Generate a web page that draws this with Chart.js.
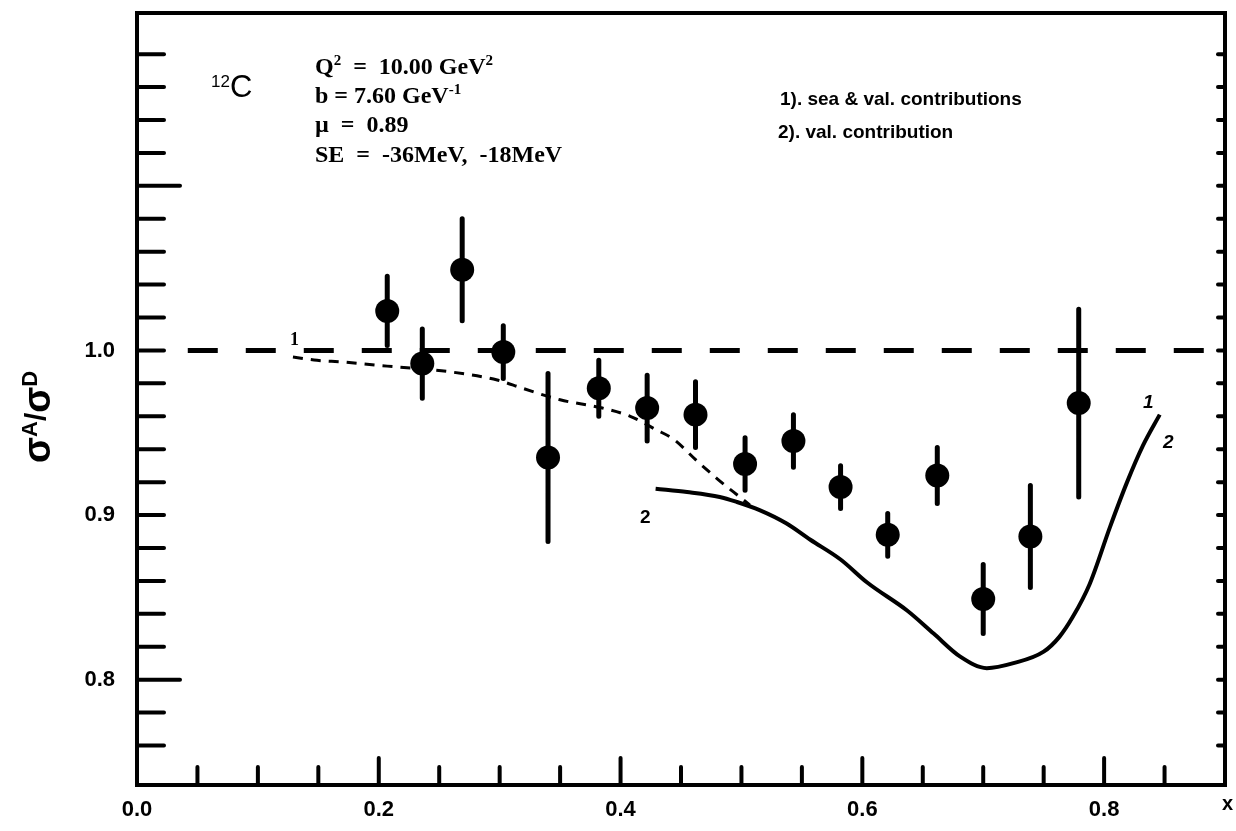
<!DOCTYPE html>
<html>
<head>
<meta charset="utf-8">
<script src="https://cdn.jsdelivr.net/npm/chart.js@4.4.1/dist/chart.umd.min.js"></script>
<style>
  html, body { margin: 0; padding: 0; background: #fff; }
  canvas { display: block; }
</style>
</head>
<body>
<canvas id="grafico" width="1236" height="831"></canvas>
<script>
// measured ratios for 12C
const dataX   = [0.207, 0.236, 0.269, 0.303, 0.340, 0.382, 0.422, 0.462, 0.503, 0.543, 0.582, 0.621, 0.662, 0.700, 0.739, 0.779];
const dataY   = [1.024, 0.992, 1.049, 0.999, 0.935, 0.977, 0.965, 0.961, 0.931, 0.945, 0.917, 0.888, 0.924, 0.849, 0.887, 0.968];
const dataErr = [0.021, 0.021, 0.031, 0.016, 0.051, 0.017, 0.020, 0.020, 0.016, 0.016, 0.013, 0.013, 0.017, 0.021, 0.031, 0.057];

// curve 1: sea & val. contributions (dashed part, joins curve 2 afterwards)
const curve1X = [0.129, 0.149, 0.170, 0.198, 0.215, 0.259, 0.298, 0.319, 0.350, 0.385, 0.408, 0.429, 0.444, 0.463, 0.480, 0.502, 0.507];
const curve1Y = [0.996, 0.994, 0.993, 0.991, 0.990, 0.987, 0.982, 0.977, 0.970, 0.965, 0.960, 0.952, 0.946, 0.933, 0.922, 0.909, 0.906];

// curve 2: val. contribution
const curve2X = [0.429, 0.455, 0.482, 0.496, 0.515, 0.537, 0.557, 0.582, 0.604, 0.637, 0.659, 0.681, 0.703, 0.725, 0.750, 0.763, 0.774, 0.788, 0.805, 0.819, 0.832, 0.846];
const curve2Y = [0.916, 0.914, 0.911, 0.908, 0.903, 0.895, 0.885, 0.873, 0.859, 0.842, 0.828, 0.814, 0.807, 0.810, 0.817, 0.826, 0.838, 0.858, 0.893, 0.920, 0.942, 0.961];

// unity reference line
const unityX = [0.042, 0.9];
const unityY = [1.0, 1.0];

const xLabelTicks = [0.0, 0.2, 0.4, 0.6, 0.8];
const yLabelTicks = [0.8, 0.9, 1.0];
const yLongTicks = [0.8, 1.1];

function pares(xs, ys) {
  return xs.map((x, i) => ({ x: x, y: ys[i] }));
}

function near(v, list) {
  return list.some(t => Math.abs(t - v) < 1e-6);
}

const barras = [];
dataX.forEach((x, i) => {
  barras.push({ x: x, y: dataY[i] - dataErr[i] });
  barras.push({ x: x, y: dataY[i] + dataErr[i] });
  barras.push({ x: x, y: null });
});

// frame with inward ticks on left, bottom and right
const moldura = {
  id: 'moldura',
  afterDraw(chart) {
    const ctx = chart.ctx;
    const a = chart.chartArea;
    const xs = chart.scales.x;
    const ys = chart.scales.y;
    ctx.save();
    ctx.strokeStyle = '#000';
    ctx.lineCap = 'round';
    ctx.lineWidth = 4;
    ctx.strokeRect(a.left, a.top, a.right - a.left, a.bottom - a.top);

    ys.ticks.forEach(t => {
      const v = t.value;
      if (Math.abs(v * 50 - Math.round(v * 50)) > 1e-6) return;
      const py = ys.getPixelForValue(v);
      const len = near(v, yLongTicks) ? 43 : 27;
      ctx.beginPath();
      ctx.moveTo(a.left, py);
      ctx.lineTo(a.left + len, py);
      ctx.stroke();
      ctx.beginPath();
      ctx.moveTo(a.right, py);
      ctx.lineTo(a.right - 7, py);
      ctx.stroke();
    });

    xs.ticks.forEach(t => {
      const v = t.value;
      if (v <= 0.001 || v >= 0.899) return;
      const px = xs.getPixelForValue(v);
      const len = near(v, xLabelTicks) ? 27 : 18;
      ctx.beginPath();
      ctx.moveTo(px, a.bottom);
      ctx.lineTo(px, a.bottom - len);
      ctx.stroke();
    });
    ctx.restore();
  }
};

function drawRich(ctx, x, y, parts) {
  parts.forEach(p => {
    ctx.font = p.f;
    ctx.fillText(p.t, x, y + (p.dy || 0));
    x += ctx.measureText(p.t).width;
  });
}

const textos = {
  id: 'textos',
  afterDraw(chart) {
    const ctx = chart.ctx;
    ctx.save();
    ctx.fillStyle = '#000';
    ctx.textBaseline = 'alphabetic';
    ctx.textAlign = 'left';

    const serif = 'bold 24px "Liberation Serif"';
    const sup = 'bold 15px "Liberation Serif"';

    // nucleus
    drawRich(ctx, 211, 97, [
      { t: '12', f: '17px "Liberation Sans"', dy: -10 },
      { t: 'C', f: '31px "Liberation Sans"' }
    ]);

    // model parameters
    drawRich(ctx, 315, 74, [
      { t: 'Q', f: serif }, { t: '2', f: sup, dy: -9 },
      { t: '  =  10.00 GeV', f: serif }, { t: '2', f: sup, dy: -9 }
    ]);
    drawRich(ctx, 315, 103, [
      { t: 'b = 7.60 GeV', f: serif }, { t: '-1', f: sup, dy: -9 }
    ]);
    drawRich(ctx, 315, 132, [{ t: '\u00b5  =  0.89', f: serif }]);
    drawRich(ctx, 315, 162, [{ t: 'SE  =  -36MeV,  -18MeV', f: serif }]);

    // curve legend
    ctx.font = 'bold 19px "Liberation Sans"';
    ctx.fillText('1). sea & val. contributions', 780, 105, 250);
    ctx.fillText('2). val. contribution', 778, 138, 190);

    // curve tags
    ctx.font = 'bold 18px "Liberation Serif"';
    ctx.fillText('1', 290, 345);
    ctx.font = 'bold 19px "Liberation Sans"';
    ctx.fillText('2', 640, 523);
    ctx.font = 'italic bold 19px "Liberation Sans"';
    ctx.fillText('1', 1143, 408);
    ctx.fillText('2', 1163, 448);

    // axis name at the right end of x
    ctx.font = 'bold 20px "Liberation Sans"';
    ctx.fillText('x', 1222, 810);

    // y axis title
    ctx.translate(50, 463);
    ctx.rotate(-Math.PI / 2);
    drawRich(ctx, 0, 0, [
      { t: '\u03c3', f: 'bold 38px "Liberation Sans"' },
      { t: 'A', f: 'bold 22px "Liberation Sans"', dy: -13 },
      { t: '/', f: 'bold 30px "Liberation Sans"', dy: -4 },
      { t: '\u03c3', f: 'bold 38px "Liberation Sans"' },
      { t: 'D', f: 'bold 22px "Liberation Sans"', dy: -13 }
    ]);
    ctx.restore();
  }
};

const ctx = document.getElementById('grafico').getContext('2d');
const grafico = new Chart(ctx, {
  type: 'scatter',
  data: {
    datasets: [
      {
        label: 'unity',
        data: pares(unityX, unityY),
        showLine: true,
        borderColor: '#000',
        borderWidth: 5,
        borderDash: [30, 28],
        pointRadius: 0
      },
      {
        label: 'curve 1',
        data: pares(curve1X, curve1Y),
        showLine: true,
        borderColor: '#000',
        borderWidth: 3,
        borderDash: [10, 8],
        pointRadius: 0,
        cubicInterpolationMode: 'monotone'
      },
      {
        label: 'curve 2',
        data: pares(curve2X, curve2Y),
        showLine: true,
        borderColor: '#000',
        borderWidth: 4,
        pointRadius: 0,
        cubicInterpolationMode: 'monotone'
      },
      {
        label: 'errors',
        data: barras,
        showLine: true,
        spanGaps: false,
        borderColor: '#000',
        borderWidth: 5,
        borderCapStyle: 'round',
        pointRadius: 0
      },
      {
        label: '12C',
        data: pares(dataX, dataY),
        showLine: false,
        backgroundColor: '#000',
        borderWidth: 0,
        pointRadius: 12
      }
    ]
  },
  options: {
    responsive: false,
    animation: false,
    layout: { autoPadding: false, padding: { top: 13, right: 11, left: 0, bottom: 0 } },
    plugins: {
      legend: { display: false },
      tooltip: { enabled: false }
    },
    scales: {
      x: {
        type: 'linear',
        min: 0,
        max: 0.9,
        grid: { display: false },
        border: { display: false },
        ticks: {
          stepSize: 0.05,
          autoSkip: false,
          maxRotation: 0,
          padding: 4,
          color: '#000',
          font: { family: 'Liberation Sans', weight: 'bold', size: 22 },
          callback: v => near(v, xLabelTicks) ? v.toFixed(1) : ''
        },
        afterFit: s => {
          s.height = 46;
          s.paddingLeft = 0;
          s.paddingRight = 0;
        }
      },
      y: {
        type: 'linear',
        min: 0.736,
        max: 1.205,
        grid: { display: false },
        border: { display: false },
        ticks: {
          stepSize: 0.02,
          autoSkip: false,
          padding: 14,
          color: '#000',
          font: { family: 'Liberation Sans', weight: 'bold', size: 22 },
          callback: v => near(v, yLabelTicks) ? v.toFixed(1) : ''
        },
        afterFit: s => {
          s.width = 137;
          s.paddingTop = 0;
          s.paddingBottom = 0;
        }
      }
    }
  },
  plugins: [moldura, textos]
});
</script>
</body>
</html>
